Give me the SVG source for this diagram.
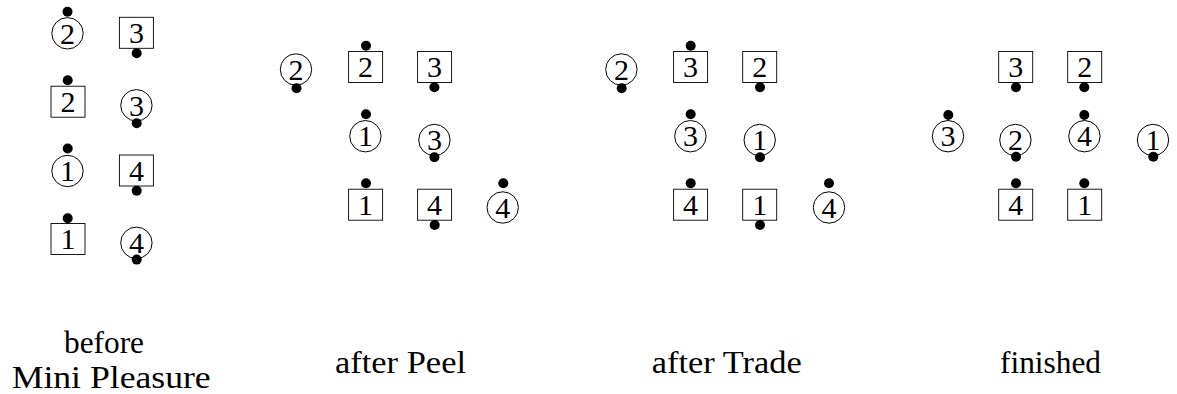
<svg xmlns="http://www.w3.org/2000/svg" width="1177" height="394" viewBox="0 0 1177 394">
<style>
.c{fill:#fff;stroke:#000;stroke-width:1}
.b{fill:#fff;stroke:#000;stroke-width:0.9}
.d{fill:#000}
.n{font-family:"Liberation Serif","DejaVu Serif",serif;font-size:30px;text-anchor:middle;fill:#000}
.l{font-family:"Liberation Serif","DejaVu Serif",serif;font-size:30.5px;fill:#000}
</style>
<defs>
<circle id="cir" class="c" cx="0" cy="0" r="15.7"/>
<rect id="box" class="b" x="-17" y="-15.5" width="34" height="31"/>
</defs>
<g id="connectors"/>
<!-- Panel 1: before Mini Pleasure -->
<g id="p1-c2" transform="translate(67.5,33.3)"><use href="#cir"/><circle class="d" cx="0" cy="-21.6" r="5"/><text class="n" x="0" y="10.2">2</text></g>
<g id="p1-b3" transform="translate(136.4,32.8)"><use href="#box"/><circle class="d" cx="0.3" cy="20.5" r="5"/><text class="n" x="0" y="10.4">3</text></g>
<g id="p1-b2" transform="translate(68,101.7)"><use href="#box"/><circle class="d" cx="-0.3" cy="-21.5" r="5"/><text class="n" x="0" y="10.4">2</text></g>
<g id="p1-c3" transform="translate(136.4,105.3)"><use href="#cir"/><circle class="d" cx="0.3" cy="18" r="5"/><text class="n" x="0" y="10.2">3</text></g>
<g id="p1-c1" transform="translate(67.5,171)"><use href="#cir"/><circle class="d" cx="0.2" cy="-22.5" r="5"/><text class="n" x="0" y="10.2">1</text></g>
<g id="p1-b4" transform="translate(136.4,170.5)"><use href="#box"/><circle class="d" cx="0.3" cy="20.2" r="5"/><text class="n" x="0" y="10.4">4</text></g>
<g id="p1-b1" transform="translate(68,239)"><use href="#box"/><circle class="d" cx="-0.3" cy="-20.8" r="5"/><text class="n" x="0" y="10.4">1</text></g>
<g id="p1-c4" transform="translate(136.4,242.8)"><use href="#cir"/><circle class="d" cx="0.3" cy="16.8" r="5"/><text class="n" x="0" y="10.2">4</text></g>
<!-- Panel 2: after Peel -->
<g id="p2-c2" transform="translate(296,69.5)"><use href="#cir"/><circle class="d" cx="0.5" cy="18.8" r="5"/><text class="n" x="0" y="10.2">2</text></g>
<g id="p2-b2" transform="translate(365.6,67)"><use href="#box"/><circle class="d" cx="0.4" cy="-21.3" r="5"/><text class="n" x="0" y="10.4">2</text></g>
<g id="p2-b3" transform="translate(434.6,67)"><use href="#box"/><circle class="d" cx="-0.2" cy="20.3" r="5"/><text class="n" x="0" y="10.4">3</text></g>
<g id="p2-c1" transform="translate(365.4,136.2)"><use href="#cir"/><circle class="d" cx="0.6" cy="-21.9" r="5"/><text class="n" x="0" y="10.2">1</text></g>
<g id="p2-c3" transform="translate(434.4,140)"><use href="#cir"/><circle class="d" cx="0" cy="17.3" r="5"/><text class="n" x="0" y="10.2">3</text></g>
<g id="p2-b1" transform="translate(365.6,204.7)"><use href="#box"/><circle class="d" cx="0.4" cy="-21.4" r="5"/><text class="n" x="0" y="10.4">1</text></g>
<g id="p2-b4" transform="translate(434.6,204.7)"><use href="#box"/><circle class="d" cx="0.1" cy="20.3" r="5"/><text class="n" x="0" y="10.4">4</text></g>
<g id="p2-c4" transform="translate(502.7,207.5)"><use href="#cir"/><circle class="d" cx="0.6" cy="-24.2" r="5"/><text class="n" x="0" y="10.2">4</text></g>
<!-- Panel 3: after Trade -->
<g id="p3-c2" transform="translate(621.4,69.5)"><use href="#cir"/><circle class="d" cx="0.3" cy="18.8" r="5"/><text class="n" x="0" y="10.2">2</text></g>
<g id="p3-b3" transform="translate(690.6,67)"><use href="#box"/><circle class="d" cx="0.1" cy="-21.3" r="5"/><text class="n" x="0" y="10.4">3</text></g>
<g id="p3-b2" transform="translate(759.7,67)"><use href="#box"/><circle class="d" cx="0.3" cy="20.3" r="5"/><text class="n" x="0" y="10.4">2</text></g>
<g id="p3-c3" transform="translate(690.4,136.2)"><use href="#cir"/><circle class="d" cx="0.3" cy="-21.9" r="5"/><text class="n" x="0" y="10.2">3</text></g>
<g id="p3-c1" transform="translate(759.7,140)"><use href="#cir"/><circle class="d" cx="0.3" cy="17.3" r="5"/><text class="n" x="0" y="10.2">1</text></g>
<g id="p3-b4" transform="translate(690.6,204.7)"><use href="#box"/><circle class="d" cx="0.1" cy="-21.4" r="5"/><text class="n" x="0" y="10.4">4</text></g>
<g id="p3-b1" transform="translate(759.7,204.7)"><use href="#box"/><circle class="d" cx="0.3" cy="20.3" r="5"/><text class="n" x="0" y="10.4">1</text></g>
<g id="p3-c4" transform="translate(829,207.5)"><use href="#cir"/><circle class="d" cx="0" cy="-24.2" r="5"/><text class="n" x="0" y="10.2">4</text></g>
<!-- Panel 4: finished -->
<g id="p4-b3" transform="translate(1015.7,67)"><use href="#box"/><circle class="d" cx="0.3" cy="20.3" r="5"/><text class="n" x="0" y="10.4">3</text></g>
<g id="p4-b2" transform="translate(1084.7,67)"><use href="#box"/><circle class="d" cx="-0.4" cy="20.3" r="5"/><text class="n" x="0" y="10.4">2</text></g>
<g id="p4-c3" transform="translate(948,136.2)"><use href="#cir"/><circle class="d" cx="0.3" cy="-21.2" r="5"/><text class="n" x="0" y="10.2">3</text></g>
<g id="p4-c2" transform="translate(1015.4,140)"><use href="#cir"/><circle class="d" cx="0.6" cy="16.7" r="5"/><text class="n" x="0" y="10.2">2</text></g>
<g id="p4-c4" transform="translate(1084.4,136.2)"><use href="#cir"/><circle class="d" cx="-0.1" cy="-21.2" r="5"/><text class="n" x="0" y="10.2">4</text></g>
<g id="p4-c1" transform="translate(1153,140)"><use href="#cir"/><circle class="d" cx="0.3" cy="16.7" r="5"/><text class="n" x="0" y="10.2">1</text></g>
<g id="p4-b4" transform="translate(1015.7,204.7)"><use href="#box"/><circle class="d" cx="0.3" cy="-21.4" r="5"/><text class="n" x="0" y="10.4">4</text></g>
<g id="p4-b1" transform="translate(1084.7,204.7)"><use href="#box"/><circle class="d" cx="-0.4" cy="-21.4" r="5"/><text class="n" x="0" y="10.4">1</text></g>
<!-- Captions -->
<g id="captions">
<text class="l" x="64" y="353.3" textLength="80" lengthAdjust="spacingAndGlyphs">before</text>
<text class="l" x="11.7" y="387.7" textLength="199" lengthAdjust="spacingAndGlyphs">Mini Pleasure</text>
<text class="l" x="335" y="373" textLength="131" lengthAdjust="spacingAndGlyphs">after Peel</text>
<text class="l" x="651.7" y="373" textLength="150" lengthAdjust="spacingAndGlyphs">after Trade</text>
<text class="l" x="1000" y="373" textLength="101" lengthAdjust="spacingAndGlyphs">finished</text>
</g>
</svg>
